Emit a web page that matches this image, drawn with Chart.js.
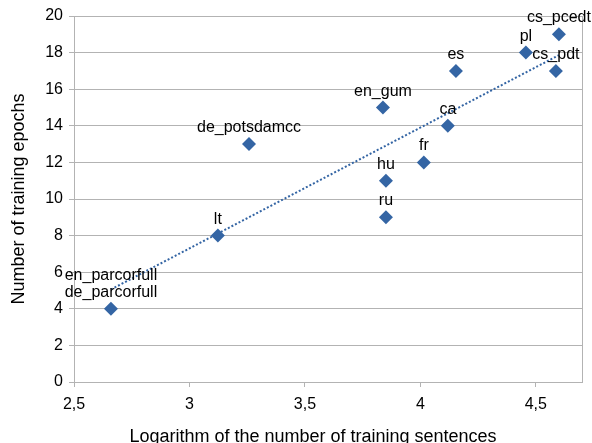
<!DOCTYPE html>
<html>
<head>
<meta charset="utf-8">
<script src="https://cdn.jsdelivr.net/npm/chart.js@4"></script>
<style>
  html, body { margin: 0; padding: 0; background: #fff; }
  #wrap { width: 592px; height: 443px; }
</style>
</head>
<body>
<div id="wrap"><canvas id="chart" width="592" height="443"></canvas></div>
<script>
// Data
const labels = ["en_parcorfull\nde_parcorfull", "lt", "de_potsdamcc", "en_gum", "hu", "ru", "fr", "ca", "es", "pl", "cs_pdt", "cs_pcedt"];
const logSentences = [2.66, 3.123, 3.258, 3.838, 3.851, 3.851, 4.015, 4.119, 4.154, 4.457, 4.587, 4.6];
const epochs = [4, 8, 13, 15, 11, 9, 12, 14, 17, 18, 17, 19];
const xTicks = [2.5, 3, 3.5, 4, 4.5];
const xTitle = 'Logarithm of the number of training sentences';

const blue = '#3465a4';
const gridColor = '#b3b3b3';
const fontFamily = '"Liberation Sans", Arial, sans-serif';

// Linear trend line (least squares) over the plotted points
function trend() {
    const n = logSentences.length;
    const mx = logSentences.reduce((a, b) => a + b, 0) / n;
    const my = epochs.reduce((a, b) => a + b, 0) / n;
    let sxy = 0, sxx = 0;
    for (let i = 0; i < n; i++) {
        sxy += (logSentences[i] - mx) * (epochs[i] - my);
        sxx += (logSentences[i] - mx) ** 2;
    }
    const k = sxy / sxx;
    const x0 = Math.min(...logSentences), x1 = Math.max(...logSentences);
    return [{ x: x0, y: my + k * (x0 - mx) }, { x: x1, y: my + k * (x1 - mx) }];
}

const points = logSentences.map((x, i) => ({ x: x, y: epochs[i] }));

// Point labels above each marker, plus the x axis title
const pointLabels = {
    id: 'pointLabels',
    afterDatasetsDraw(chart) {
        const ctx = chart.ctx;
        const xs = chart.scales.x, ys = chart.scales.y;
        ctx.save();
        ctx.font = '16px ' + fontFamily;
        ctx.fillStyle = '#000';
        ctx.textAlign = 'center';
        ctx.textBaseline = 'alphabetic';
        points.forEach((p, i) => {
            const px = xs.getPixelForValue(p.x);
            const py = ys.getPixelForValue(p.y);
            const lines = labels[i].split('\n');
            lines.forEach((line, j) => {
                const dy = (lines.length - 1 - j) * 17;
                ctx.fillText(line, px, py - 12 - dy);
            });
        });
        // x title sits a little left of the plot centre in the original
        ctx.font = '18px ' + fontFamily;
        ctx.textBaseline = 'middle';
        ctx.fillText(xTitle, 313, 437);
        ctx.restore();
    }
};

// Right edge of the plot area
const rightEdge = {
    id: 'rightEdge',
    beforeDatasetsDraw(chart) {
        const a = chart.chartArea, ctx = chart.ctx;
        ctx.save();
        ctx.strokeStyle = gridColor;
        ctx.lineWidth = 1;
        ctx.beginPath();
        ctx.moveTo(a.right + 0.5, a.top);
        ctx.lineTo(a.right + 0.5, a.bottom);
        ctx.stroke();
        ctx.restore();
    }
};

new Chart(document.getElementById('chart'), {
    type: 'scatter',
    data: {
        datasets: [{
            data: points,
            pointStyle: 'rectRot',
            pointRadius: 7,
            pointHoverRadius: 7,
            backgroundColor: blue,
            borderColor: blue,
            borderWidth: 0
        }, {
            type: 'line',
            data: trend(),
            borderColor: blue,
            borderWidth: 2,
            borderDash: [2, 2],
            pointRadius: 0,
            fill: false
        }]
    },
    options: {
        responsive: false,
        animation: false,
        layout: { padding: { top: 16, right: 10, left: 0, bottom: 0 } },
        plugins: { legend: { display: false }, tooltip: { enabled: false } },
        scales: {
            x: {
                type: 'linear',
                min: 2.5,
                max: 4.7,
                afterBuildTicks: s => { s.ticks = xTicks.map(v => ({ value: v })); },
                afterFit: s => { s.height = 61; },
                ticks: {
                    color: '#000',
                    font: { family: fontFamily, size: 16 },
                    padding: 8,
                    callback: v => String(v).replace('.', ',')
                },
                grid: { drawOnChartArea: false, color: gridColor, tickLength: 5 },
                border: { color: gridColor }
            },
            y: {
                min: 0,
                max: 20,
                afterFit: s => { s.width = 74; },
                ticks: {
                    stepSize: 2,
                    color: '#000',
                    font: { family: fontFamily, size: 16 },
                    padding: 6
                },
                grid: { color: gridColor, tickLength: 5 },
                border: { color: gridColor },
                title: {
                    display: true,
                    text: 'Number of training epochs',
                    color: '#000',
                    font: { family: fontFamily, size: 18 },
                    padding: { top: 8, bottom: 0 }
                }
            }
        }
    },
    plugins: [pointLabels, rightEdge]
});
</script>
</body>
</html>
